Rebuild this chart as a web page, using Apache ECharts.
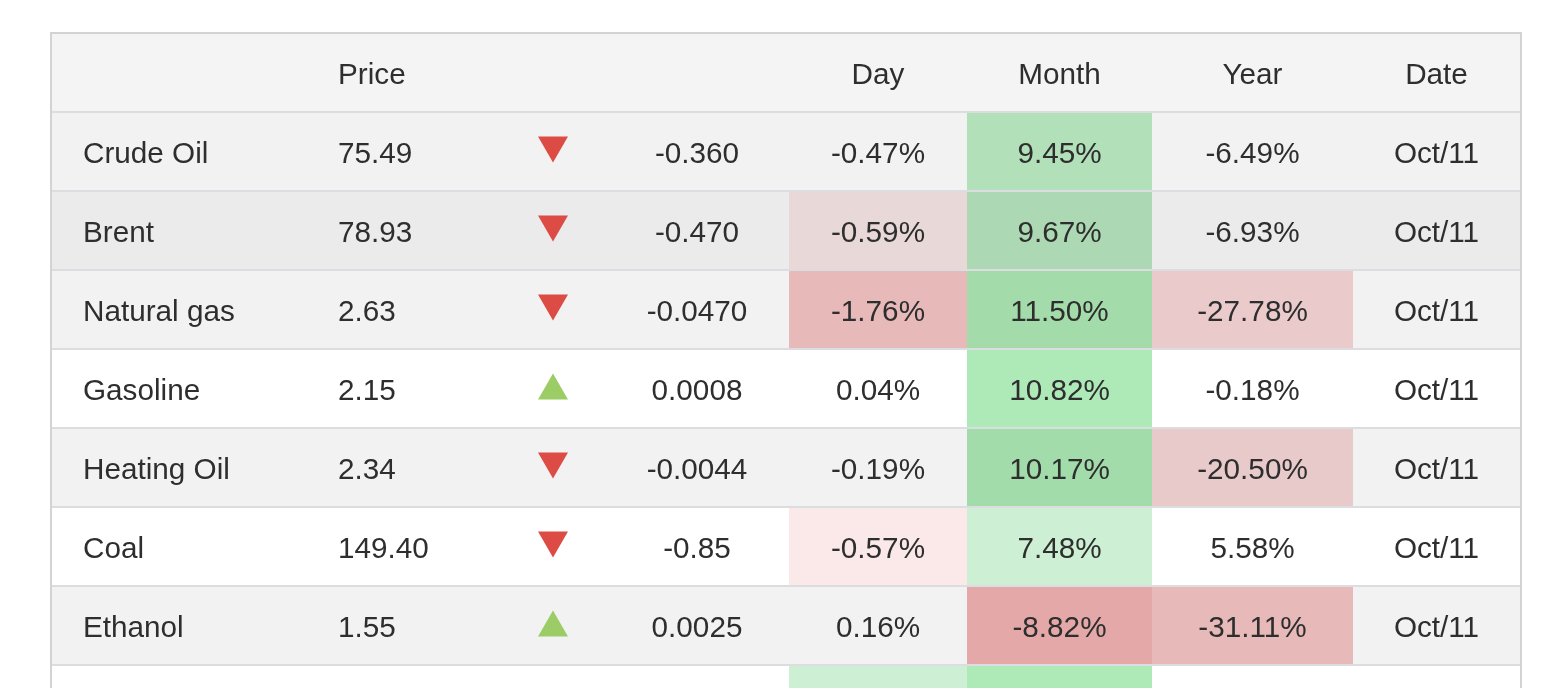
<!DOCTYPE html>
<html>
<head>
<meta charset="utf-8">
<script src="https://cdn.jsdelivr.net/npm/echarts@6/dist/echarts.min.js"></script>
<style>
html,body{margin:0;padding:0;background:#fff;}
#main{width:1552px;height:688px;}
</style>
</head>
<body>
<div id="main"></div>
<script>
// ---------- data ----------
const headers = ['', 'Price', '', '', 'Day', 'Month', 'Year', 'Date'];
const commodities = ['Crude Oil', 'Brent', 'Natural gas', 'Gasoline', 'Heating Oil', 'Coal', 'Ethanol'];
const prices = ['75.49', '78.93', '2.63', '2.15', '2.34', '149.40', '1.55'];
const directions = ['down', 'down', 'down', 'up', 'down', 'down', 'up'];
const changes = ['-0.360', '-0.470', '-0.0470', '0.0008', '-0.0044', '-0.85', '0.0025'];
const dayPct = ['-0.47%', '-0.59%', '-1.76%', '0.04%', '-0.19%', '-0.57%', '0.16%'];
const monthPct = ['9.45%', '9.67%', '11.50%', '10.82%', '10.17%', '7.48%', '-8.82%'];
const yearPct = ['-6.49%', '-6.93%', '-27.78%', '-0.18%', '-20.50%', '5.58%', '-31.11%'];
const dates = ['Oct/11', 'Oct/11', 'Oct/11', 'Oct/11', 'Oct/11', 'Oct/11', 'Oct/11'];

// ---------- styling / layout (kept apart from data) ----------
const visibleRows = 8;                 // 7 full rows + top of an 8th row
const colEdges = [52, 307, 501, 605, 789, 967, 1152, 1353, 1520];
const colAlign = ['left', 'left', 'center', 'center', 'center', 'center', 'center', 'center'];
const padLeft = 31;
const headerBg = '#f4f4f4';
const rowBg = ['#f2f2f2', '#ebebeb', '#f2f2f2', '#ffffff', '#f2f2f2', '#ffffff', '#f2f2f2', '#ffffff'];
const dayTint   = [null, '#e8d8d8', '#e8b9b9', null, null, '#fbe9e9', null, '#cdf0d5'];
const monthTint = ['#b2e0b9', '#acd9b3', '#a3dcaa', '#aee9b8', '#a2dcaa', '#cdf0d5', '#e5a8a8', '#aee9b8'];
const yearTint  = [null, null, '#eacaca', null, '#e9caca', null, '#e8b9b9', null];
const lineColor = '#dcdde1';
const textColor = '#2e2e2e';
const font = {fontSize: 29.7, fontFamily: '"Liberation Sans", Arial, Helvetica, sans-serif'};
const upColor = '#9ccc65';
const downColor = '#dc4c45';

function cellTexts(r) {
  if (r === 0) return headers;
  const i = r - 1;
  if (i >= commodities.length) return null;
  return [commodities[i], prices[i], '', changes[i], dayPct[i], monthPct[i], yearPct[i], dates[i]];
}

function renderItem(params, api) {
  const r = api.value(0);
  const top = api.coord([colEdges[0], r])[1];
  const bottom = api.coord([colEdges[0], r + 1])[1];
  const lineH = 2;
  const xs = colEdges.map(e => api.coord([e, r])[0]);
  const children = [];
  // row background
  children.push({type: 'rect', shape: {x: xs[0], y: top, width: xs[xs.length - 1] - xs[0], height: bottom - top},
    style: {fill: r === 0 ? headerBg : rowBg[r - 1]}});
  // heat tints
  if (r > 0) {
    const tints = [[4, dayTint[r - 1]], [5, monthTint[r - 1]], [6, yearTint[r - 1]]];
    tints.forEach(([c, col]) => {
      if (col) children.push({type: 'rect', shape: {x: xs[c], y: top, width: xs[c + 1] - xs[c], height: bottom - top},
        style: {fill: col}});
    });
  }
  // bottom separator
  children.push({type: 'rect', shape: {x: xs[0], y: bottom - lineH, width: xs[xs.length - 1] - xs[0], height: lineH},
    style: {fill: lineColor}});
  // texts
  const texts = cellTexts(r);
  const cy = (top + bottom - lineH) / 2;
  if (texts) {
    texts.forEach((t, c) => {
      if (!t) return;
      const left = colAlign[c] === 'left';
      children.push({type: 'text', style: Object.assign({
        text: t,
        x: left ? xs[c] + padLeft : (xs[c] + xs[c + 1]) / 2,
        y: cy + 3,
        fill: textColor,
        align: left ? 'left' : 'center',
        verticalAlign: 'middle'
      }, font)});
    });
    // arrow
    if (r > 0) {
      const dir = directions[r - 1];
      const ax = (xs[2] + xs[3]) / 2;
      const ay = cy - 2;
      const w = 15, h = 13;
      const pts = dir === 'down'
        ? [[ax - w, ay - h], [ax + w, ay - h], [ax, ay + h]]
        : [[ax - w, ay + h], [ax + w, ay + h], [ax, ay - h]];
      children.push({type: 'polygon', shape: {points: pts}, style: {fill: dir === 'down' ? downColor : upColor}});
    }
  }
  return {type: 'group', children: children};
}

const rowIndex = [];
for (let r = 0; r <= visibleRows; r++) rowIndex.push([r]);

const chart = echarts.init(document.getElementById('main'));
chart.setOption({
  animation: false,
  grid: {left: 51, top: 33, width: 1470, height: 712, show: true, outerBoundsMode: 'none',
         borderColor: '#d3d3d3', borderWidth: 2, backgroundColor: 'transparent'},
  xAxis: {type: 'value', min: 51, max: 1521, show: false},
  yAxis: {type: 'value', min: -1 / 79, max: 9, inverse: true, show: false},
  series: [{
    type: 'custom',
    coordinateSystem: 'cartesian2d',
    encode: {y: 0},
    clip: false,
    silent: true,
    renderItem: renderItem,
    data: rowIndex
  }]
});
</script>
</body>
</html>
